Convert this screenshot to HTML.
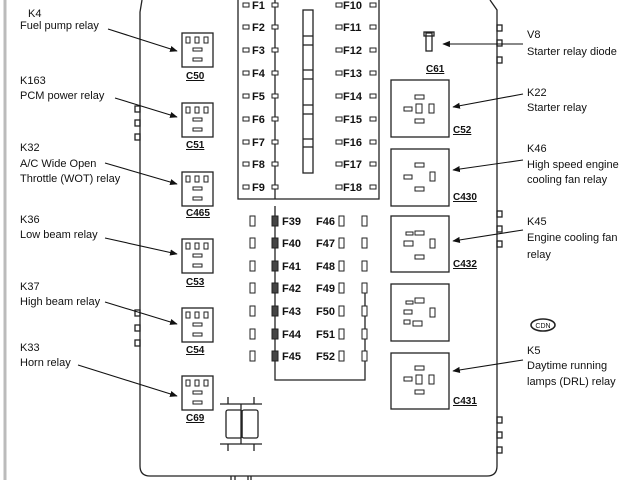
<!DOCTYPE html>
<html><head><meta charset="utf-8"><style>
html,body{margin:0;padding:0;background:#fff;}
svg{display:block;}
.l{font-family:"Liberation Sans",sans-serif;font-size:11px;fill:#111;}
.f{font-family:"Liberation Sans",sans-serif;font-size:11px;font-weight:bold;fill:#111;}
.c{font-family:"Liberation Sans",sans-serif;font-size:10px;font-weight:bold;fill:#111;text-decoration:underline;}
</style></head><body>
<svg width="640" height="480" viewBox="0 0 640 480" xmlns="http://www.w3.org/2000/svg">
<defs><marker id="a" viewBox="0 0 10 10" refX="9" refY="5" markerWidth="7" markerHeight="7" orient="auto"><path d="M0,1 L10,5 L0,9 z" fill="#111"/></marker></defs>
<line x1="5" y1="0" x2="5" y2="480" stroke="#bbb" stroke-width="3"/>
<g fill="none" stroke="#222" stroke-width="1.3">
<path d="M142,0 L140,12 L140,466 Q140,476 150,476 L487,476 Q497,476 497,466 L497,10 L490,0"/>
<rect x="135" y="106" width="5" height="6"/><rect x="135" y="120" width="5" height="6"/><rect x="135" y="134" width="5" height="6"/>
<rect x="135" y="310" width="5" height="6"/><rect x="135" y="325" width="5" height="6"/><rect x="135" y="340" width="5" height="6"/>
<rect x="497" y="25" width="5" height="6"/><rect x="497" y="40" width="5" height="6"/><rect x="497" y="57" width="5" height="6"/>
<rect x="497" y="211" width="5" height="6"/><rect x="497" y="226" width="5" height="6"/><rect x="497" y="241" width="5" height="6"/>
<rect x="497" y="417" width="5" height="6"/><rect x="497" y="432" width="5" height="6"/><rect x="497" y="447" width="5" height="6"/>
<line x1="231" y1="476" x2="231" y2="480"/><line x1="235" y1="476" x2="235" y2="480"/><line x1="248" y1="476" x2="248" y2="480"/><line x1="251" y1="476" x2="251" y2="480"/>
<polyline points="238,0 238,199 379,199 379,0"/>
<line x1="275" y1="0" x2="275" y2="199"/>
<rect x="303" y="10" width="10" height="163"/>
<line x1="303" y1="36" x2="313" y2="36"/><line x1="303" y1="45" x2="313" y2="45"/>
<line x1="303" y1="70" x2="313" y2="70"/><line x1="303" y1="79" x2="313" y2="79"/>
<line x1="303" y1="105" x2="313" y2="105"/><line x1="303" y1="114" x2="313" y2="114"/>
<line x1="303" y1="139" x2="313" y2="139"/><line x1="303" y1="147" x2="313" y2="147"/>
<polyline points="275,206 275,380 365,380 365,288"/>
<rect x="182" y="33" width="31" height="34"/>
<rect x="182" y="103" width="31" height="34"/>
<rect x="182" y="172" width="31" height="34"/>
<rect x="182" y="239" width="31" height="34"/>
<rect x="182" y="308" width="31" height="34"/>
<rect x="182" y="376" width="31" height="34"/>
<rect x="391" y="80" width="58" height="57"/>
<rect x="391" y="149" width="58" height="57"/>
<rect x="391" y="216" width="58" height="56"/>
<rect x="391" y="284" width="58" height="57"/>
<rect x="391" y="353" width="58" height="56"/>
<rect x="426" y="33" width="6" height="18"/><rect x="424" y="32" width="10" height="4"/>
<rect x="226" y="410" width="16" height="28" rx="2"/><rect x="242" y="410" width="16" height="28" rx="2"/>
<line x1="220" y1="404" x2="262" y2="404"/><line x1="220" y1="444" x2="262" y2="444"/>
<line x1="228" y1="397" x2="228" y2="404"/><line x1="254" y1="397" x2="254" y2="404"/>
<line x1="228" y1="444" x2="228" y2="451"/><line x1="254" y1="444" x2="254" y2="451"/>
<line x1="241" y1="404" x2="241" y2="444"/>
<ellipse cx="543" cy="325" rx="12" ry="6" stroke-width="1.6"/>
</g>
<g fill="none" stroke="#222" stroke-width="1">
<g id="p"><rect x="186" y="37" width="4" height="6"/><rect x="195" y="37" width="4" height="6"/><rect x="204" y="37" width="4" height="6"/><rect x="193" y="48" width="9" height="3"/><rect x="193" y="58" width="9" height="3"/></g>
<use href="#p" y="70"/><use href="#p" y="139"/><use href="#p" y="206"/><use href="#p" y="275"/><use href="#p" y="343"/>
<rect x="415" y="95" width="9" height="4"/><rect x="404" y="107" width="8" height="4"/><rect x="416" y="104" width="6" height="9"/><rect x="429" y="104" width="5" height="9"/><rect x="415" y="119" width="9" height="4"/>
<rect x="415" y="163" width="9" height="4"/><rect x="404" y="175" width="8" height="4"/><rect x="430" y="172" width="5" height="9"/><rect x="415" y="187" width="9" height="4"/>
<rect x="406" y="232" width="7" height="3"/><rect x="415" y="231" width="9" height="4"/><rect x="404" y="241" width="9" height="5"/><rect x="430" y="239" width="5" height="9"/><rect x="415" y="255" width="9" height="4"/>
<rect x="406" y="301" width="7" height="3"/><rect x="415" y="298" width="9" height="5"/><rect x="404" y="310" width="8" height="4"/><rect x="430" y="308" width="5" height="9"/><rect x="404" y="320" width="6" height="4"/><rect x="413" y="321" width="9" height="5"/>
<rect x="415" y="366" width="9" height="4"/><rect x="404" y="377" width="8" height="4"/><rect x="416" y="375" width="6" height="9"/><rect x="429" y="375" width="5" height="9"/><rect x="415" y="390" width="9" height="4"/>
</g>
<g fill="#fff" stroke="#222" stroke-width="1">
<g id="fr"><rect x="243" y="3" width="6" height="4"/><rect x="272" y="3" width="6" height="4"/><rect x="336" y="3" width="6" height="4"/><rect x="370" y="3" width="6" height="4"/></g>
<use href="#fr" y="22"/><use href="#fr" y="45"/><use href="#fr" y="68"/><use href="#fr" y="91"/><use href="#fr" y="114"/><use href="#fr" y="137"/><use href="#fr" y="159"/><use href="#fr" y="182"/>
<g id="lr"><rect x="250" y="216" width="5" height="10"/><rect x="272" y="216" width="6" height="10" fill="#444"/><rect x="339" y="216" width="5" height="10"/><rect x="362" y="216" width="5" height="10"/></g>
<use href="#lr" y="22"/><use href="#lr" y="45"/><use href="#lr" y="67"/><use href="#lr" y="90"/><use href="#lr" y="113"/><use href="#lr" y="135"/>
</g>
<g class="f">
<text x="252" y="9">F1</text><text x="252" y="31">F2</text><text x="252" y="54">F3</text><text x="252" y="77">F4</text><text x="252" y="100">F5</text><text x="252" y="123">F6</text><text x="252" y="146">F7</text><text x="252" y="168">F8</text><text x="252" y="191">F9</text>
<text x="343" y="9">F10</text><text x="343" y="31">F11</text><text x="343" y="54">F12</text><text x="343" y="77">F13</text><text x="343" y="100">F14</text><text x="343" y="123">F15</text><text x="343" y="146">F16</text><text x="343" y="168">F17</text><text x="343" y="191">F18</text>
<text x="282" y="225">F39</text><text x="282" y="247">F40</text><text x="282" y="270">F41</text><text x="282" y="292">F42</text><text x="282" y="315">F43</text><text x="282" y="338">F44</text><text x="282" y="360">F45</text>
<text x="316" y="225">F46</text><text x="316" y="247">F47</text><text x="316" y="270">F48</text><text x="316" y="292">F49</text><text x="316" y="315">F50</text><text x="316" y="338">F51</text><text x="316" y="360">F52</text>
</g>
<g class="c">
<text x="186" y="79">C50</text><text x="186" y="148">C51</text><text x="186" y="216">C465</text><text x="186" y="285">C53</text><text x="186" y="353">C54</text><text x="186" y="421">C69</text>
<text x="426" y="72">C61</text><text x="453" y="133">C52</text><text x="453" y="200">C430</text><text x="453" y="267">C432</text><text x="453" y="404">C431</text>
</g>
<text x="543" y="328" text-anchor="middle" style="font-family:'Liberation Sans',sans-serif;font-size:7px;fill:#111">CDN</text>
<g class="l">
<text x="28" y="17">K4</text><text x="20" y="29">Fuel pump relay</text>
<text x="20" y="84">K163</text><text x="20" y="99">PCM power relay</text>
<text x="20" y="151">K32</text><text x="20" y="167">A/C Wide Open</text><text x="20" y="182">Throttle (WOT) relay</text>
<text x="20" y="223">K36</text><text x="20" y="238">Low beam relay</text>
<text x="20" y="290">K37</text><text x="20" y="305">High beam relay</text>
<text x="20" y="351">K33</text><text x="20" y="366">Horn relay</text>
<text x="527" y="38">V8</text><text x="527" y="55">Starter relay diode</text>
<text x="527" y="96">K22</text><text x="527" y="111">Starter relay</text>
<text x="527" y="152">K46</text><text x="527" y="168">High speed engine</text><text x="527" y="183">cooling fan relay</text>
<text x="527" y="225">K45</text><text x="527" y="241">Engine cooling fan</text><text x="527" y="258">relay</text>
<text x="527" y="354">K5</text><text x="527" y="369">Daytime running</text><text x="527" y="385">lamps (DRL) relay</text>
</g>
<g stroke="#111" stroke-width="1.1" fill="none" marker-end="url(#a)">
<line x1="108" y1="29" x2="177" y2="51"/>
<line x1="115" y1="98" x2="177" y2="117"/>
<line x1="105" y1="163" x2="177" y2="184"/>
<line x1="105" y1="238" x2="177" y2="254"/>
<line x1="105" y1="302" x2="177" y2="324"/>
<line x1="78" y1="365" x2="177" y2="396"/>
<line x1="523" y1="44" x2="443" y2="44"/>
<line x1="523" y1="94" x2="453" y2="107"/>
<line x1="523" y1="160" x2="453" y2="170"/>
<line x1="523" y1="230" x2="453" y2="241"/>
<line x1="523" y1="360" x2="453" y2="371"/>
</g>
</svg>
</body></html>
